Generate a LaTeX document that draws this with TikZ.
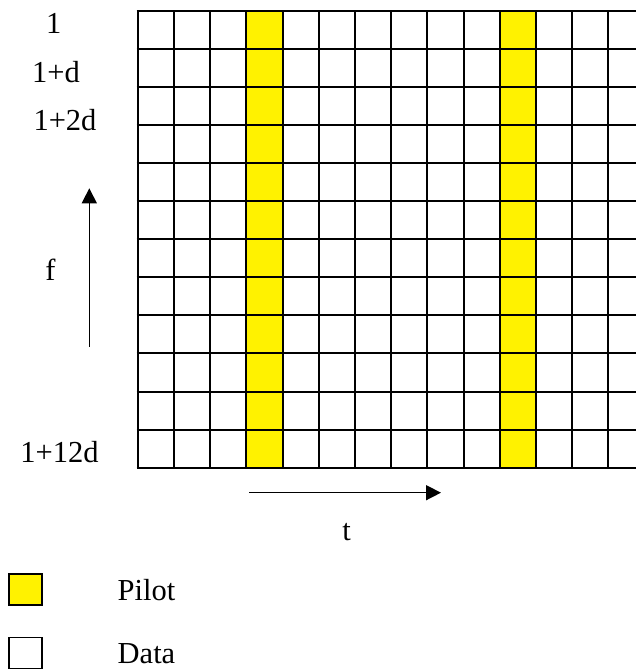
\documentclass[tikz,border=0pt]{standalone}
\usepackage{fontspec}
\setmainfont{Liberation Serif}
\usetikzlibrary{arrows.meta}
\begin{document}
\begin{tikzpicture}[x=1pt,y=-1pt,
  gridline/.style={line width=2pt,black},
  pilotfill/.style={fill=yellow},
  lbl/.style={inner sep=0pt,anchor=base,font=\fontsize{30.5}{36}\selectfont},
  lblw/.style={inner sep=0pt,anchor=base west,font=\fontsize{30.5}{36}\selectfont},
  axisarrow/.style={line width=1.5pt,-{Triangle[length=15pt,width=15pt]}},
  legbox/.style={draw,line width=1.7pt,minimum width=33pt,minimum height=31pt,inner sep=0pt}]
\useasboundingbox (0,0) rectangle (636,669);
\def\gx{137.7}\def\gy{10.7}\def\cw{36.2}\def\rh{38.08}
% pilot columns
\fill[pilotfill] (\gx+3*\cw,\gy) rectangle (\gx+4*\cw,\gy+12*\rh);
\fill[pilotfill] (\gx+10*\cw,\gy) rectangle (\gx+11*\cw,\gy+12*\rh);
% grid
\foreach \k in {0,...,12}
  \draw[gridline] (\gx-1,\gy+\k*\rh) -- (640,\gy+\k*\rh);
\foreach \k in {0,...,13}
  \draw[gridline] (\gx+\k*\cw,\gy) -- (\gx+\k*\cw,\gy+12*\rh);
% row labels
\node[lbl] (r0) at (53.7,34) {1};
\node[lbl] (r1) at (56,82) {1+d};
\node[lbl] (r2) at (65,130) {1+2d};
\node[lbl] (r12) at (59.5,462) {1+12d};
% axes
\coordinate (fs) at (89.3,346.7);
\coordinate (fe) at (89.3,188.3);
\draw[axisarrow] (fs) -- (fe);
\node[lbl] (flab) at (50.5,280) {f};
\coordinate (ts) at (249,492.7);
\coordinate (te) at (441,492.7);
\draw[axisarrow] (ts) -- (te);
\node[lbl] (tlab) at (346.5,540) {t};
% legend
\node[legbox,fill=yellow] (pbox) at (25.5,589.5) {};
\node[lblw] (plab) at (117.5,600) {Pilot};
\node[legbox,fill=white] (dbox) at (25.5,653) {};
\node[lblw] (dlab) at (117.5,663) {Data};
\end{tikzpicture}
\end{document}
